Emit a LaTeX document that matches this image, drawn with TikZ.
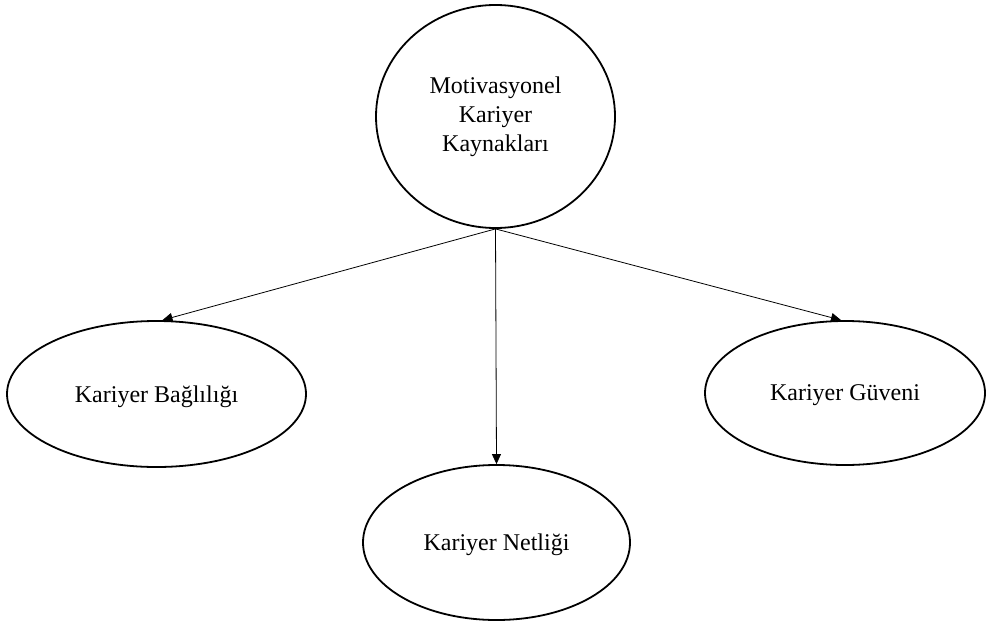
\documentclass[tikz,border=0pt]{standalone}
\usepackage{fontspec}
\setmainfont{Liberation Serif}
\usetikzlibrary{shapes.geometric,arrows.meta}
\begin{document}
\begin{tikzpicture}[x=1pt,y=-1pt,
  oval/.style={draw,ellipse,line width=1.8pt,inner sep=0pt,font=\fontsize{24}{29}\selectfont,align=center},
  flat/.style={text depth=0pt},
  link/.style={line width=0.8pt,-{Triangle[length=10pt,width=9pt]}}]
\useasboundingbox (0,0) rectangle (987,626);
\node[oval,minimum width=239pt,minimum height=223pt] (top) at (495.5,116.5) {Motivasyonel\\Kariyer\\Kaynakları};
\node[oval,flat,minimum width=299pt,minimum height=146pt] (l) at (156.5,394) {Kariyer Bağlılığı};
\node[oval,flat,minimum width=280pt,minimum height=144pt] (r) at (845,393) {Kariyer Güveni};
\node[oval,flat,minimum width=267pt,minimum height=155pt] (b) at (496.5,542.5) {Kariyer Netliği};
\draw[link] (top.south) -- ([xshift=6pt]l.north);
\draw[link] (top.south) -- (b.north);
\draw[link] (top.south) -- ([xshift=-4pt]r.north);
\end{tikzpicture}
\end{document}
